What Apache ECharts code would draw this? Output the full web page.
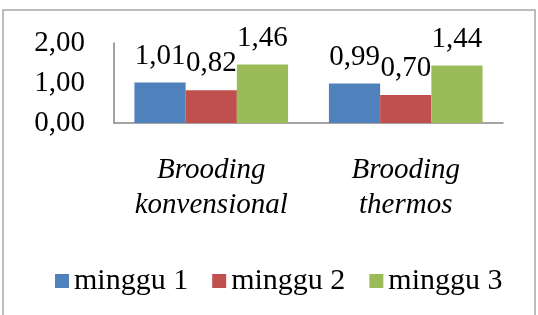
<!DOCTYPE html>
<html>
<head>
<meta charset="utf-8">
<script src="https://cdn.jsdelivr.net/npm/echarts@6/dist/echarts.min.js"></script>
<style>
  html, body { margin: 0; padding: 0; background: #fff; }
  #chart { width: 538px; height: 315px; }
</style>
</head>
<body>
<div id="chart"></div>
<script>
var categories = ['Brooding\nkonvensional', 'Brooding\nthermos'];
var seriesNames = ['minggu 1', 'minggu 2', 'minggu 3'];
var minggu1 = [1.01, 0.99];
var minggu2 = [0.82, 0.70];
var minggu3 = [1.46, 1.44];
var colors = ['#4f81bd', '#c0504d', '#9bbb59'];

var serif = '"Liberation Serif", "Times New Roman", serif';

function fmt(v) {
  return Number(v).toFixed(2).replace('.', ',');
}

function makeSeries(name, data) {
  return {
    name: name,
    type: 'bar',
    data: data,
    barGap: 0,
    barCategoryGap: '21%',
    label: {
      show: true,
      position: 'top',
      distance: 12,
      color: '#000',
      fontFamily: serif,
      fontSize: 29,
      formatter: function (p) { return fmt(p.value); }
    }
  };
}

var option = {
  animation: false,
  color: colors,
  grid: { left: 114, right: 35, top: 43, bottom: 192 },
  graphic: [{
    type: 'rect',
    shape: { x: 3, y: 10, width: 532, height: 320 },
    style: { fill: 'none', stroke: '#a6a6a6', lineWidth: 1.5 },
    silent: true
  }],
  legend: {
    data: seriesNames,
    top: 261,
    left: 50,
    itemWidth: 14,
    itemHeight: 14,
    itemGap: 24,
    icon: 'rect',
    textStyle: { fontFamily: serif, fontSize: 30, color: '#000' }
  },
  xAxis: {
    type: 'category',
    data: categories,
    axisLine: { lineStyle: { color: '#868686', width: 1.5 } },
    axisTick: { show: false },
    axisLabel: {
      interval: 0,
      margin: 30,
      color: '#000',
      fontFamily: serif,
      fontStyle: 'italic',
      fontSize: 29,
      lineHeight: 35
    }
  },
  yAxis: {
    type: 'value',
    min: 0,
    max: 2,
    interval: 1,
    axisLine: { show: true, lineStyle: { color: '#868686', width: 1.5 } },
    axisTick: { show: false },
    splitLine: { show: false },
    axisLabel: {
      margin: 29,
      color: '#000',
      fontFamily: serif,
      fontSize: 29,
      formatter: fmt
    }
  },
  series: [
    makeSeries(seriesNames[0], minggu1),
    makeSeries(seriesNames[1], minggu2),
    makeSeries(seriesNames[2], minggu3)
  ]
};

var chart = echarts.init(document.getElementById('chart'));
chart.setOption(option);
</script>
</body>
</html>
